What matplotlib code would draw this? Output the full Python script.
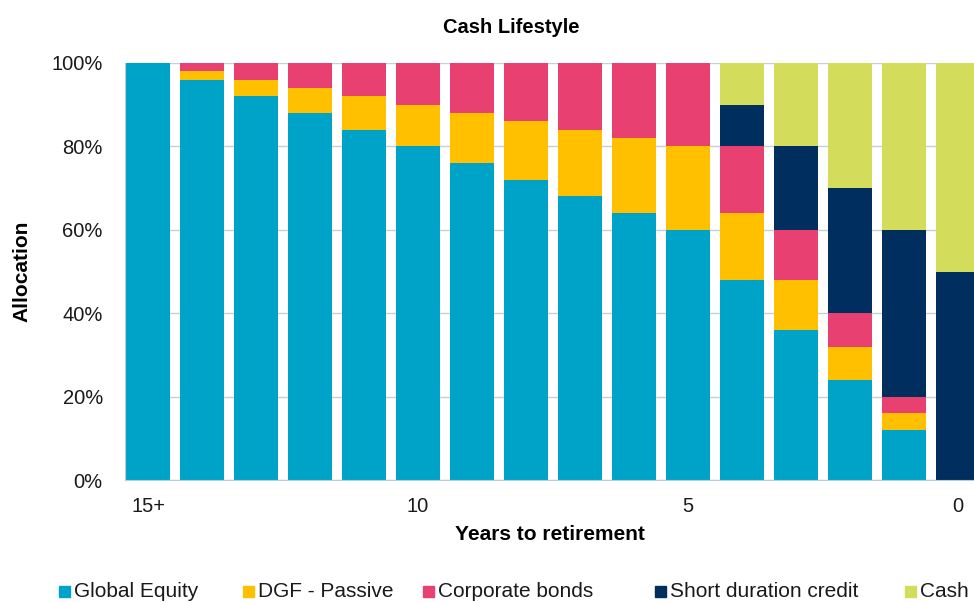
import matplotlib.pyplot as plt
import matplotlib.patches as mpatches
import numpy as np

plt.rcParams['font.family'] = ['Liberation Sans', 'DejaVu Sans']

years = ['15+', '14', '13', '12', '11', '10', '9', '8', '7', '6', '5', '4', '3', '2', '1', '0']
tick_labels = ['15+', '', '', '', '', '10', '', '', '', '', '5', '', '', '', '', '0']

global_equity = [100, 96, 92, 88, 84, 80, 76, 72, 68, 64, 60, 48, 36, 24, 12, 0]
dgf_passive = [0, 2, 4, 6, 8, 10, 12, 14, 16, 18, 20, 16, 12, 8, 4, 0]
corporate_bonds = [0, 2, 4, 6, 8, 10, 12, 14, 16, 18, 20, 16, 12, 8, 4, 0]
short_duration = [0, 0, 0, 0, 0, 0, 0, 0, 0, 0, 0, 10, 20, 30, 40, 50]
cash = [0, 0, 0, 0, 0, 0, 0, 0, 0, 0, 0, 10, 20, 30, 40, 50]

series = [global_equity, dgf_passive, corporate_bonds, short_duration, cash]
names = ['Global Equity', 'DGF - Passive', 'Corporate bonds', 'Short duration credit', 'Cash']
colors = ['#00A3C8', '#FFC000', '#E84070', '#002E5F', '#D4DC5C']

W, H = 974, 603
fig = plt.figure(figsize=(W / 100, H / 100), dpi=100)
ax = fig.add_axes([125 / W, 1 - 480 / H, 1 - 125 / W, (480 - 63) / H])

x = np.arange(len(years))
bottom = np.zeros(len(years))
for vals, name, c in zip(series, names, colors):
    v = np.array(vals, dtype=float)
    ax.bar(x, v, width=0.83, bottom=bottom, color=c, label=name, zorder=2)
    bottom += v

ax.set_xlim(-0.426, (W - 148) / 54)
ax.set_ylim(0, 100)
ax.set_yticks([0, 20, 40, 60, 80, 100])
ax.set_yticklabels(['0%', '20%', '40%', '60%', '80%', '100%'])
ax.set_xticks(x)
ax.set_xticklabels(tick_labels)
ax.tick_params(axis='both', length=0, labelsize=14.5, colors='#1a1a1a')
ax.tick_params(axis='x', pad=12)
ax.tick_params(axis='y', pad=16)
ax.yaxis.grid(True, color='#C5D1D8', linewidth=1, zorder=0)
ax.set_axisbelow(True)
for s in ['top', 'right']:
    ax.spines[s].set_visible(False)
for s in ['left', 'bottom']:
    ax.spines[s].set_color('#BFCBD2')

ax.set_xlabel('Years to retirement', fontsize=15, fontweight='bold', labelpad=7)
ax.set_ylabel('Allocation', fontsize=15, fontweight='bold', labelpad=14)

fig.text(511 / W, 1 - 33 / H, 'Cash Lifestyle', fontsize=14.5, fontweight='bold',
         ha='center', va='baseline')

# legend entries laid out like the original (uneven spacing)
legend_x = [59, 243, 423, 655, 905]
base = 1 - 597 / H
for lx, name, c in zip(legend_x, names, colors):
    fig.patches.append(mpatches.Rectangle((lx / W, base), 11 / W, 11 / H,
                                          transform=fig.transFigure, color=c))
    fig.text((lx + 15) / W, base, name, fontsize=15, ha='left', va='baseline', color='#1a1a1a')

fig.savefig('out.png', dpi=100)
